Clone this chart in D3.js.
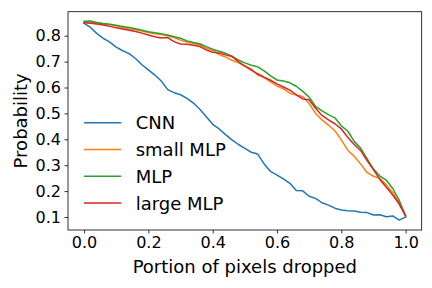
<!DOCTYPE html>
<html>
<head>
<meta charset="utf-8">
<title>Probability vs pixels dropped</title>
<script src="https://cdn.jsdelivr.net/npm/d3@7"></script>
<style>
html, body { margin:0; padding:0; background:#fff; }
svg { display:block; font-family:"DejaVu Sans", sans-serif; }
.tick text { font-size:16px; fill:#000; }
.tick line { stroke:#000; }
</style>
</head>
<body>
<svg id="chart" width="432" height="288"></svg>
<script>
// portion of pixels dropped, 0 .. 1 in steps of 0.02
var portions = d3.range(51).map(function(i){ return +(i*0.02).toFixed(2); });

var cnn = [0.848,0.832,0.808,0.790,0.775,0.756,0.742,0.731,0.712,0.688,
	0.668,0.648,0.625,0.592,0.580,0.572,0.558,0.540,0.516,0.487,
	0.458,0.440,0.418,0.398,0.380,0.365,0.350,0.343,0.305,0.276,
	0.262,0.247,0.230,0.202,0.201,0.180,0.172,0.155,0.146,0.134,
	0.127,0.124,0.123,0.118,0.117,0.108,0.109,0.101,0.104,0.088,0.100];

var smallMlp = [0.853,0.853,0.848,0.845,0.842,0.838,0.832,0.827,0.823,0.818,
	0.812,0.808,0.805,0.800,0.793,0.783,0.776,0.770,0.764,0.752,
	0.744,0.727,0.718,0.705,0.695,0.683,0.672,0.648,0.638,0.622,
	0.606,0.595,0.578,0.571,0.565,0.538,0.500,0.475,0.455,0.433,
	0.398,0.358,0.335,0.305,0.272,0.257,0.249,0.224,0.195,0.155,0.104];

var mlp = [0.856,0.857,0.851,0.847,0.844,0.840,0.836,0.832,0.827,0.821,
	0.815,0.811,0.808,0.803,0.796,0.790,0.780,0.774,0.769,0.758,
	0.748,0.740,0.732,0.721,0.706,0.695,0.686,0.680,0.664,0.645,
	0.629,0.625,0.618,0.605,0.585,0.563,0.527,0.510,0.495,0.483,
	0.452,0.432,0.392,0.366,0.325,0.285,0.258,0.242,0.210,0.165,0.104];

var largeMlp = [0.850,0.848,0.845,0.841,0.836,0.831,0.826,0.821,0.816,0.810,
	0.803,0.796,0.791,0.793,0.777,0.768,0.767,0.763,0.758,0.745,
	0.736,0.733,0.726,0.720,0.700,0.683,0.667,0.653,0.640,0.628,
	0.614,0.602,0.590,0.572,0.556,0.553,0.520,0.492,0.475,0.460,
	0.440,0.408,0.380,0.357,0.318,0.283,0.245,0.215,0.185,0.150,0.104];

var seriesNames = ["CNN","small MLP","MLP","large MLP"];
var seriesValues = [cnn, smallMlp, mlp, largeMlp];
var colors = ["#1f77b4","#ff7f0e","#2ca02c","#d62728"];

var xTicks = [0.0,0.2,0.4,0.6,0.8,1.0];
var yTicks = [0.1,0.2,0.3,0.4,0.5,0.6,0.7,0.8];

// plot box (window.top is taken, so own names)
var boxL = 68, boxR = 421.7, boxT = 11.7, boxB = 230;

var svg = d3.select("#chart");

var x = d3.scaleLinear().domain([-0.05,1.05]).range([boxL,boxR]);
var y = d3.scaleLinear().domain([0.0498,0.8927]).range([boxB,boxT]);

var line = d3.line()
	.x(function(d,i){ return x(portions[i]); })
	.y(function(d){ return y(d); });

var g = svg.append("g");
seriesValues.forEach(function(vals,k){
	g.append("path")
		.attr("d", line(vals))
		.attr("fill","none")
		.attr("stroke",colors[k])
		.attr("stroke-width",1.5)
		.attr("stroke-linejoin","round")
		.attr("stroke-linecap","square");
});

// axes
var xAxis = svg.append("g")
	.attr("transform","translate(0,"+boxB+")")
	.call(d3.axisBottom(x).tickValues(xTicks).tickFormat(d3.format(".1f")).tickSize(3.5).tickPadding(3.5));
var yAxis = svg.append("g")
	.attr("transform","translate("+boxL+",0)")
	.call(d3.axisLeft(y).tickValues(yTicks).tickFormat(d3.format(".1f")).tickSize(3.5).tickPadding(3.5));
[xAxis,yAxis].forEach(function(a){
	a.select(".domain").remove();
	a.selectAll(".tick line").attr("stroke-width",0.8);
	a.attr("font-family",null).attr("font-size",null);
});

// frame
svg.append("rect")
	.attr("x",boxL).attr("y",boxT)
	.attr("width",boxR-boxL).attr("height",boxB-boxT)
	.attr("fill","none").attr("stroke","#000").attr("stroke-width",0.8);

// labels
svg.append("text")
	.attr("x",(boxL+boxR)/2).attr("y",273)
	.attr("text-anchor","middle").attr("font-size",18)
	.text("Portion of pixels dropped");
svg.append("text")
	.attr("transform","translate(27,"+((boxT+boxB)/2)+") rotate(-90)")
	.attr("text-anchor","middle").attr("font-size",18)
	.text("Probability");

// legend
var legend = svg.append("g");
seriesNames.forEach(function(name,k){
	var ly = 122.7 + k*26.8;
	legend.append("line")
		.attr("x1",84).attr("x2",121.3)
		.attr("y1",ly).attr("y2",ly)
		.attr("stroke",colors[k]).attr("stroke-width",1.5);
	legend.append("text")
		.attr("x",135.7).attr("y",ly)
		.attr("dy","0.36em")
		.attr("font-size",18)
		.text(name);
});
</script>
</body>
</html>
